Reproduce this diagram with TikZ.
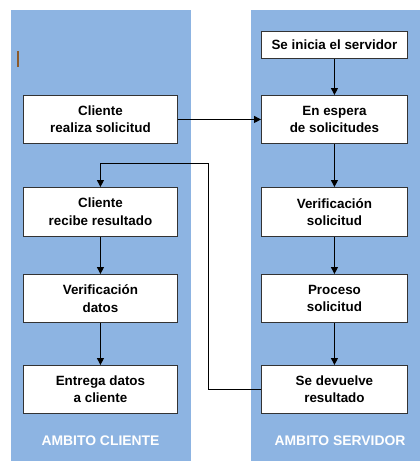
\documentclass[tikz,border=0pt]{standalone}
\usepackage{fontspec}
\setmainfont{Liberation Sans}
\usetikzlibrary{arrows.meta}
\definecolor{panelblue}{HTML}{8DB4E2}
\definecolor{markbrown}{HTML}{8B5A2B}
\begin{document}
\begin{tikzpicture}[x=1pt,y=-1pt,
  stepbox/.style={draw=black!80,fill=white,line width=0.9pt,align=center,
    font=\fontsize{13.4}{17.5}\selectfont\bfseries,inner sep=0pt,anchor=north west},
  conn/.style={line width=0.9pt,-{Triangle[length=7pt,width=7pt]}},
  paneltitle/.style={text=white,font=\fontsize{13.9}{16}\selectfont\bfseries}]
\useasboundingbox (0,0) rectangle (420,461);
\fill[panelblue] (11,10) rectangle (191,461);
\fill[panelblue] (251,10) rectangle (420,461);
\fill[markbrown] (16.8,51) rectangle (19,67);
% client boxes
\node[stepbox,minimum width=154pt,minimum height=48pt] (c1) at (23,95) {Cliente\\realiza solicitud};
\node[stepbox,minimum width=154pt,minimum height=49pt] (c2) at (23,187) {Cliente\\recibe resultado};
\node[stepbox,minimum width=154pt,minimum height=48pt] (c3) at (23,274) {Verificación\\datos};
\node[stepbox,minimum width=154pt,minimum height=48pt] (c4) at (23,365) {Entrega datos\\a cliente};
% server boxes
\node[stepbox,minimum width=146pt,minimum height=27pt] (s1) at (261,31) {Se inicia el servidor};
\node[stepbox,minimum width=146pt,minimum height=48pt] (s2) at (261,95) {En espera\\de solicitudes};
\node[stepbox,minimum width=146pt,minimum height=49pt] (s3) at (261,187) {Verificación\\solicitud};
\node[stepbox,minimum width=146pt,minimum height=48pt] (s4) at (261,274) {Proceso\\solicitud};
\node[stepbox,minimum width=146pt,minimum height=48pt] (s5) at (261,365) {Se devuelve\\resultado};
% titles
\node[paneltitle] (tc) at (100.5,441) {AMBITO CLIENTE};
\node[paneltitle] (ts) at (340,441) {AMBITO SERVIDOR};
% connectors
\draw[conn] (c1.east) -- (s2.west);
\draw[conn] (s1) -- (s2);
\draw[conn] (s2) -- (s3);
\draw[conn] (s3) -- (s4);
\draw[conn] (s4) -- (s5);
\draw[conn] (c2) -- (c3);
\draw[conn] (c3) -- (c4);
\coordinate (r1) at (208.5,163);
\draw[conn] (s5.west) -| (r1) -| (c2.north);
\end{tikzpicture}
\end{document}
